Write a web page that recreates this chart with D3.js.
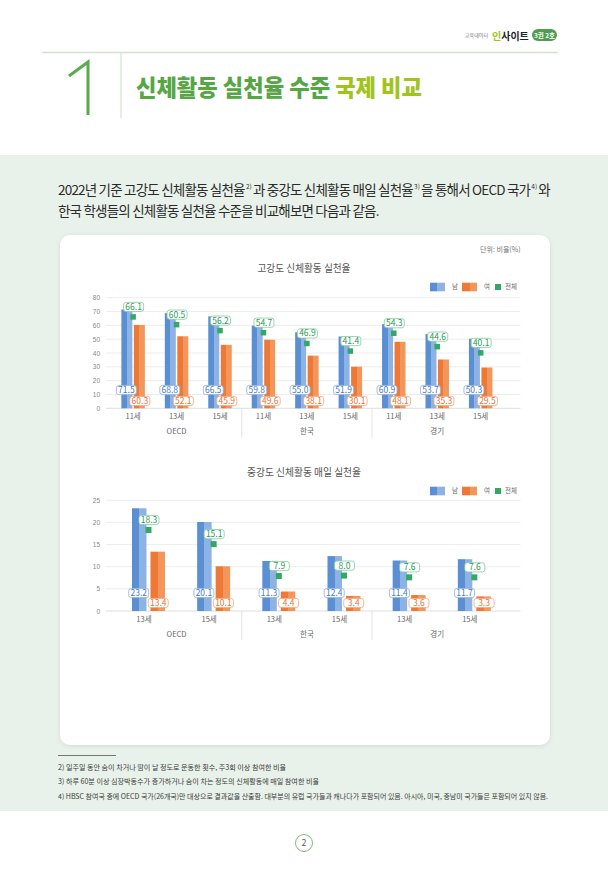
<!DOCTYPE html>
<html>
<head>
<meta charset="utf-8">
<script src="https://cdn.jsdelivr.net/npm/d3@7"></script>
<style>
html, body { margin: 0; padding: 0; background: #fff; }
svg { display: block; font-family: "Noto Sans CJK KR", "Noto Sans", sans-serif; }
</style>
</head>
<body>
<div id="page"></div>
<script>
// data
const groups = ['OECD', '한국', '경기'];

const agesHigh = ['11세', '13세', '15세'];
const highMale = [71.5, 68.8, 66.5, 59.8, 55.0, 51.9, 60.9, 53.7, 50.3];
const highFemale = [60.3, 52.1, 45.9, 49.6, 38.1, 30.1, 48.1, 35.3, 29.5];
const highTotal = [66.1, 60.5, 56.2, 54.7, 46.9, 41.4, 54.3, 44.6, 40.1];
const highTicks = [0, 10, 20, 30, 40, 50, 60, 70, 80];

const agesMod = ['13세', '15세'];
const modMale = [23.2, 20.1, 11.3, 12.4, 11.4, 11.7];
const modFemale = [13.4, 10.1, 4.4, 3.4, 3.6, 3.3];
const modTotal = [18.3, 15.1, 7.9, 8.0, 7.6, 7.6];
const modTicks = [0, 5, 10, 15, 20, 25];

const legendNames = ['남', '여', '전체'];

const footnotes = [
  '2) 일주일 동안 숨이 차거나 땀이 날 정도로 운동한 횟수, 주3회 이상 참여한 비율',
  '3) 하루 60분 이상 심장박동수가 증가하거나 숨이 차는 정도의 신체활동에 매일 참여한 비율',
  '4) HBSC 참여국 중에 OECD 국가(26개국)만 대상으로 결과값을 산출함. 대부분의 유럽 국가들과 캐나다가 포함되어 있음. 아시아, 미국, 중남미 국가들은 포함되어 있지 않음.'
];

const blue = '#5b8fd4', blueLight = '#8db3e5';
const orange = '#ee7836', orangeLight = '#f3965c';
const green = '#33a862';

const svg = d3.select('#page').append('svg').attr('width', 608).attr('height', 869);
const defs = svg.append('defs');

function twoTone(id, c1, c2) {
  const g = defs.append('linearGradient').attr('id', id).attr('x1', 0).attr('x2', 1).attr('y1', 0).attr('y2', 0);
  g.append('stop').attr('offset', '0%').attr('stop-color', c1);
  g.append('stop').attr('offset', '50%').attr('stop-color', c1);
  g.append('stop').attr('offset', '50%').attr('stop-color', c2);
  g.append('stop').attr('offset', '100%').attr('stop-color', c2);
}
twoTone('gBlue', blue, blueLight);
twoTone('gOrange', orange, orangeLight);

const shadow = defs.append('filter').attr('id', 'shadow').attr('x', '-5%').attr('y', '-5%').attr('width', '110%').attr('height', '110%');
shadow.append('feDropShadow').attr('dx', 0).attr('dy', 1).attr('stdDeviation', 2).attr('flood-color', '#000').attr('flood-opacity', 0.1);

// header
svg.append('text').attr('x', 465).attr('y', 37).attr('font-size', 5).attr('fill', '#777').text('교육데이터');
svg.append('text').attr('x', 492).attr('y', 39.5).attr('font-size', 10).attr('font-weight', 700).attr('fill', '#222')
  .call(t => { t.append('tspan').attr('fill', '#9dc31d').text('인'); t.append('tspan').text('사이트'); });
svg.append('rect').attr('x', 532).attr('y', 29).attr('width', 25).attr('height', 12).attr('rx', 6).attr('fill', '#4f9e4f');
svg.append('text').attr('x', 544.5).attr('y', 37.5).attr('text-anchor', 'middle').attr('fill', '#fff').attr('font-size', 6.5).attr('font-weight', 700)
  .text('3권 2호');

svg.append('line').attr('x1', 42).attr('x2', 558).attr('y1', 52.5).attr('y2', 52.5).attr('stroke', '#d3e2d3').attr('stroke-width', 1.5);
svg.append('line').attr('x1', 121).attr('x2', 121).attr('y1', 53).attr('y2', 118).attr('stroke', '#c9dcc9').attr('stroke-width', 1);
svg.append('path').attr('d', 'M 69 76 L 88 62 L 88 115').attr('fill', 'none').attr('stroke', '#5aab4c').attr('stroke-width', 3);
svg.append('text').attr('x', 136).attr('y', 96).attr('font-size', 23).attr('font-weight', 900)
  .attr('textLength', 286).attr('lengthAdjust', 'spacingAndGlyphs')
  .call(t => {
    t.append('tspan').attr('fill', '#56a646').text('신체활동 실천율 수준 ');
    t.append('tspan').attr('fill', '#a0c41c').text('국제 비교');
  });

// green band
svg.append('rect').attr('x', 0).attr('y', 155).attr('width', 608).attr('height', 656).attr('fill', '#e9f2ea');

// intro; fitted with letter-spacing so the boxes stay true, superscripts placed in the gaps
const intro = svg.append('g').attr('font-size', 13.5).attr('fill', '#2b2b2b');
const introParts = ['2022년 기준 고강도 신체활동 실천율', '과 중강도 신체활동 매일 실천율', '을 통해서 OECD 국가', '와'];
const introSups = ['2)', '3)', '4)'];
const gapX = 1.2;
const partEls = introParts.map(s => intro.append('text').attr('y', 195).text(s));
const supEls = introSups.map(s => intro.append('text').attr('y', 189).attr('font-size', 6.5).text(s));
const supW = d3.sum(supEls, t => t.node().getComputedTextLength());
const partW = d3.sum(partEls, t => t.node().getComputedTextLength());
const nChars = d3.sum(introParts, s => s.length);
const ls = (492 - supW - gapX * 2 * introSups.length - partW) / nChars;
partEls.forEach(t => t.attr('letter-spacing', ls));
let px = 58;
partEls.forEach((t, i) => {
  t.attr('x', px);
  px += t.node().getComputedTextLength() + gapX;
  if (i < supEls.length) {
    supEls[i].attr('x', px);
    px += supEls[i].node().getComputedTextLength() + gapX;
  }
});
intro.append('text').attr('x', 58).attr('y', 216).attr('letter-spacing', ls)
  .text('한국 학생들의 신체활동 실천율 수준을 비교해보면 다음과 같음.');

// card
svg.append('rect').attr('x', 60).attr('y', 235).attr('width', 490).attr('height', 510).attr('rx', 10)
  .attr('fill', '#fff').attr('filter', 'url(#shadow)');

svg.append('text').attr('x', 520.5).attr('y', 251.5).attr('text-anchor', 'end').attr('font-size', 7).attr('fill', '#777')
  .text('단위: 비율(%)');

function valueLabel(g, cx, cy, v, stroke, fill) {
  g.append('rect').attr('x', cx - 10).attr('y', cy - 4.6).attr('width', 20).attr('height', 9.2).attr('rx', 2.5)
    .attr('fill', '#fff').attr('stroke', stroke).attr('stroke-width', 0.8);
  g.append('text').attr('x', cx).attr('y', cy + 3).attr('text-anchor', 'middle').attr('font-size', 8.5)
    .attr('fill', fill).text(v.toFixed(1));
}

function drawChart(o) {
  const g = svg.append('g');
  const cats = groups.flatMap(gr => o.ages.map(a => ({ group: gr, age: a })));
  const x = d3.scaleBand().domain(d3.range(cats.length)).range([111.4, 502.4]);
  const y = d3.scaleLinear().domain([0, d3.max(o.ticks)]).range([o.y0, o.y1]);

  // title + legend
  g.append('text').attr('x', 304).attr('y', o.titleY).attr('text-anchor', 'middle').attr('font-size', 10.5)
    .attr('fill', '#555').attr('textLength', o.titleW).attr('lengthAdjust', 'spacingAndGlyphs').text(o.title);
  const lg = g.append('g').attr('transform', `translate(0,${o.legendY})`).attr('font-size', 6.5).attr('fill', '#666');
  lg.append('rect').attr('x', 430).attr('y', -4.3).attr('width', 15).attr('height', 8.6).attr('fill', 'url(#gBlue)');
  lg.append('text').attr('x', 452).attr('y', 2.3).text(legendNames[0]);
  lg.append('rect').attr('x', 462).attr('y', -4.3).attr('width', 15).attr('height', 8.6).attr('fill', 'url(#gOrange)');
  lg.append('text').attr('x', 484).attr('y', 2.3).text(legendNames[1]);
  lg.append('rect').attr('x', 495).attr('y', -3).attr('width', 6).attr('height', 6).attr('fill', green);
  lg.append('text').attr('x', 505).attr('y', 2.3).text(legendNames[2]);

  // grid
  g.selectAll('.grid').data(o.ticks).join('line')
    .attr('x1', 106).attr('x2', 520.5)
    .attr('y1', d => y(d)).attr('y2', d => y(d))
    .attr('stroke', d => d === 0 ? '#d6d6d6' : '#e8e8e8').attr('stroke-width', 0.8);

  const ax = g.append('g').attr('transform', 'translate(100,0)')
    .call(d3.axisLeft(y).tickValues(o.ticks).tickSize(0).tickPadding(0));
  ax.select('.domain').remove();
  ax.selectAll('text').attr('font-size', 6.5).attr('fill', '#888').attr('font-family', null);

  const cx = i => x(i) + x.bandwidth() / 2 + o.shift;
  const bw = o.barW, gap = o.gap;

  g.selectAll('.male').data(o.male).join('rect')
    .attr('x', (d, i) => cx(i) - gap / 2 - bw).attr('width', bw)
    .attr('y', d => y(d)).attr('height', d => y(0) - y(d))
    .attr('fill', 'url(#gBlue)');
  g.selectAll('.female').data(o.female).join('rect')
    .attr('x', (d, i) => cx(i) + gap / 2).attr('width', bw)
    .attr('y', d => y(d)).attr('height', d => y(0) - y(d))
    .attr('fill', 'url(#gOrange)');
  g.selectAll('.total').data(o.total).join('rect')
    .attr('x', (d, i) => cx(i) - o.mk / 2).attr('width', o.mk)
    .attr('y', d => y(d) - o.mk / 2).attr('height', o.mk)
    .attr('fill', green);

  const lab = g.append('g');
  o.male.forEach((v, i) => valueLabel(lab, cx(i) - gap / 2 - bw / 2 - 0.5, o.maleLabelY, v, '#8fb0dc', '#4a7dc0'));
  o.female.forEach((v, i) => valueLabel(lab, cx(i) + gap / 2 + bw / 2 + 0.5, o.femaleLabelY, v, '#f2a77b', '#e4753a'));
  o.total.forEach((v, i) => valueLabel(lab, cx(i) + 0.5, y(v) - 10, v, '#86c99c', '#2e9a55'));

  // x labels
  g.selectAll('.age').data(cats).join('text')
    .attr('x', (d, i) => x(i) + x.bandwidth() / 2).attr('y', o.y0 + 10.5)
    .attr('text-anchor', 'middle').attr('font-size', 7.5).attr('fill', '#666').text(d => d.age);
  const gw = x.bandwidth() * o.ages.length;
  g.selectAll('.grp').data(groups).join('text')
    .attr('x', (d, k) => x(k * o.ages.length) + gw / 2).attr('y', o.y0 + 25.5)
    .attr('text-anchor', 'middle').attr('font-size', 7.5).attr('fill', '#666').text(d => d);
  g.selectAll('.sep').data(groups.slice(1)).join('line')
    .attr('x1', (d, k) => x((k + 1) * o.ages.length)).attr('x2', (d, k) => x((k + 1) * o.ages.length))
    .attr('y1', o.y0).attr('y2', o.y0 + 29)
    .attr('stroke', '#dcdcdc').attr('stroke-width', 0.8);
}

drawChart({
  title: '고강도 신체활동 실천율', titleY: 272, titleW: 93, legendY: 287,
  ages: agesHigh, male: highMale, female: highFemale, total: highTotal, ticks: highTicks,
  y0: 408.3, y1: 297.7, barW: 11, gap: 1.5, shift: 0, mk: 5.5,
  maleLabelY: 390, femaleLabelY: 401
});

drawChart({
  title: '중강도 신체활동 매일 실천율', titleY: 475.5, titleW: 114, legendY: 491,
  ages: agesMod, male: modMale, female: modFemale, total: modTotal, ticks: modTicks,
  y0: 611, y1: 500.3, barW: 14.5, gap: 4, shift: 4.5, mk: 6,
  maleLabelY: 593, femaleLabelY: 603
});

// footnotes
svg.append('line').attr('x1', 58).attr('x2', 116).attr('y1', 755.5).attr('y2', 755.5).attr('stroke', '#555').attr('stroke-width', 0.8);
const fnW = [228, 261, 490];
svg.selectAll('.fn').data(footnotes).join('text')
  .attr('x', 58).attr('y', (d, i) => 769.5 + i * 14.5)
  .attr('font-size', 7).attr('fill', '#3a3a3a')
  .attr('textLength', (d, i) => fnW[i]).attr('lengthAdjust', 'spacingAndGlyphs')
  .text(d => d);

// page number
svg.append('circle').attr('cx', 304).attr('cy', 843).attr('r', 8.5).attr('fill', '#fff').attr('stroke', '#72b572').attr('stroke-width', 0.9);
svg.append('text').attr('x', 304).attr('y', 846.3).attr('text-anchor', 'middle').attr('font-size', 9).attr('fill', '#666').text('2');
</script>
</body>
</html>
